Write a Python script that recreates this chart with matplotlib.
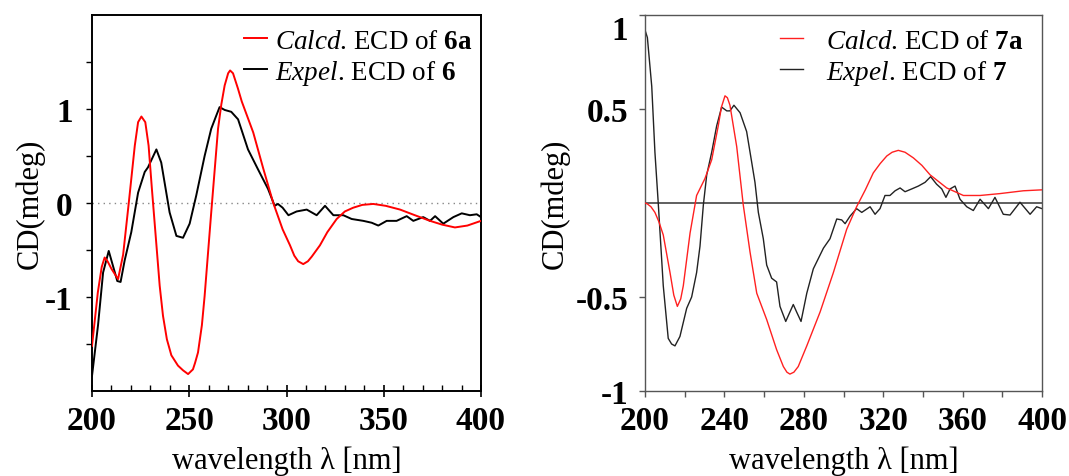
import matplotlib
matplotlib.use("Agg")
import matplotlib.pyplot as plt
from matplotlib.ticker import MultipleLocator, FixedLocator

plt.rcParams['font.family'] = ['Liberation Serif', 'DejaVu Serif']
plt.rcParams['mathtext.fontset'] = 'custom'
plt.rcParams['mathtext.rm'] = 'Liberation Serif'
plt.rcParams['mathtext.it'] = 'Liberation Serif:italic'
plt.rcParams['mathtext.bf'] = 'Liberation Serif:bold'
plt.rcParams['axes.unicode_minus'] = False

# ---------------- Left panel: compound 6 ----------------
calc6_wl = [200, 203, 205, 206.5, 208, 210, 213.4, 216, 218.9, 222, 223.7, 225.4, 227.4, 229.1,
            230.8, 232.2, 234.8, 236.5, 238.5, 240.8, 244.2, 246.8, 249.4, 251.9, 253, 254.5,
            256.5, 257.9, 261.3, 264.8, 266.5, 268.2, 270, 271, 272.5, 275, 277, 282.9, 288,
            293.2, 298, 301.8, 304, 306, 308.6, 311, 313, 317.2, 321, 325.8, 330, 334.3, 339,
            344.6, 351, 358.4, 366, 373.8, 380, 386.6, 393, 400]
calc6_cd = [-1.52, -0.95, -0.68, -0.58, -0.62, -0.70, -0.81, -0.55, 0.0, 0.61, 0.86, 0.92, 0.86,
            0.61, 0.15, -0.21, -0.88, -1.20, -1.45, -1.62, -1.73, -1.78, -1.82, -1.77, -1.70,
            -1.59, -1.30, -0.99, -0.10, 0.79, 1.05, 1.25, 1.38, 1.41, 1.38, 1.22, 1.08, 0.75,
            0.37, 0.0, -0.28, -0.45, -0.56, -0.62, -0.65, -0.62, -0.57, -0.45, -0.31, -0.17,
            -0.09, -0.05, -0.02, -0.01, -0.03, -0.07, -0.13, -0.19, -0.23, -0.26, -0.24, -0.19]

exp6_wl = [200, 203.1, 205.7, 208.6, 210.8, 213, 214.7, 216.8, 220.2, 223.7, 227.1, 228.8,
           233.1, 235.6, 239.9, 243.4, 246.8, 250.2, 253.6, 257.9, 261.3, 263.9, 265.6, 268.2,
           271.6, 275.1, 280.2, 285.3, 290.5, 293.9, 295.6, 298, 301, 305.2, 310.4, 315.5,
           319.8, 324.1, 329.2, 333.5, 339.5, 343.8, 347.2, 351.5, 356.6, 361.8, 365.2, 370.3,
           373.8, 376.4, 380.6, 385.8, 390.1, 394.3, 397.8, 400]
exp6_cd = [-1.84, -1.30, -0.74, -0.51, -0.67, -0.83, -0.84, -0.61, -0.31, 0.11, 0.33, 0.38,
           0.57, 0.43, -0.10, -0.35, -0.37, -0.22, 0.08, 0.50, 0.79, 0.93, 1.02, 0.99,
           0.97, 0.89, 0.57, 0.36, 0.15, -0.03, -0.01, -0.05, -0.13, -0.09, -0.07, -0.13,
           -0.03, -0.13, -0.13, -0.17, -0.19, -0.21, -0.24, -0.19, -0.19, -0.14, -0.19, -0.15,
           -0.19, -0.14, -0.22, -0.15, -0.11, -0.13, -0.12, -0.15]

# ---------------- Right panel: compound 7 ----------------
calc7_wl = [200, 201.2, 203, 205, 207, 209.2, 212.6, 214.5, 216.3, 218, 219.3, 222.7, 226,
            230.2, 233.6, 236.9, 238.5, 240.3, 241.5, 242.8, 246.2, 249.5, 252.9, 256.3,
            261.3, 266.3, 269.7, 271.5, 273, 275, 277.2, 281.5, 288.2, 294.9, 301.6, 306.6,
            311, 315, 318.5, 321.8, 324.5, 327.6, 331, 335.2, 339.5, 343.6, 352, 360.4,
            368.8, 378.8, 390.6, 400]
calc7_cd = [0.0, -0.005, -0.02, -0.05, -0.10, -0.17, -0.37, -0.49, -0.55, -0.51, -0.44, -0.16,
            0.04, 0.13, 0.23, 0.41, 0.51, 0.57, 0.56, 0.52, 0.30, -0.01, -0.26, -0.48,
            -0.62, -0.78, -0.87, -0.90, -0.91, -0.90, -0.87, -0.76, -0.58, -0.37, -0.14,
            -0.02, 0.07, 0.16, 0.21, 0.25, 0.27, 0.28, 0.27, 0.24, 0.20, 0.15, 0.08, 0.04,
            0.04, 0.05, 0.065, 0.07]

exp7_wl = [200, 201.2, 203.4, 205, 206.7, 209.2, 211.7, 213.4, 215.1, 217.6, 221, 223.5, 226,
           227.7, 229.4, 231.1, 233.6, 236.1, 238.6, 241.2, 242.8, 244.8, 247.9, 251.2,
           253.7, 255.4, 257.1, 259.6, 261.3, 263.8, 266.3, 268, 270.9, 273, 274.7, 276.4,
           278.6, 281.5, 284.8, 289.9, 293.2, 296.6, 299.1, 300.8, 303.3, 306.6, 309.2,
           313.4, 315.9, 318.4, 320.9, 323.4, 326, 328.5, 331, 334.4, 337.7, 341.1, 343.9,
           346.9, 349.5, 351.6, 353.7, 356.2, 358.7, 362.1, 365.4, 368.8, 373, 376.3, 380.5,
           383.9, 388.9, 394, 397.3, 400]
exp7_cd = [0.92, 0.88, 0.62, 0.27, -0.005, -0.44, -0.72, -0.75, -0.76, -0.71, -0.56, -0.50,
           -0.37, -0.23, -0.01, 0.15, 0.27, 0.41, 0.51, 0.49, 0.49, 0.52, 0.48, 0.38,
           0.22, 0.11, -0.05, -0.19, -0.33, -0.40, -0.42, -0.55, -0.63, -0.58, -0.54, -0.58,
           -0.63, -0.48, -0.35, -0.24, -0.19, -0.085, -0.09, -0.11, -0.07, -0.03, -0.05,
           -0.02, -0.06, -0.03, 0.04, 0.04, 0.065, 0.08, 0.06, 0.075, 0.09, 0.11, 0.14,
           0.10, 0.075, 0.03, 0.075, 0.09, 0.02, -0.02, -0.04, 0.02, -0.03, 0.03, -0.06,
           -0.064, 0.004, -0.06, -0.02, -0.03]

left_xticks = [200, 250, 300, 350, 400]
left_yticks = [-1.5, -1, -0.5, 0, 0.5, 1, 1.5]
left_yticklabels = ['', '-1', '', '0', '', '1', '']
right_xticks = [200, 240, 280, 320, 360, 400]
right_yticks = [-1, -0.5, 0.5, 1]
right_yticklabels = ['-1', '-0.5', '0.5', '1']

labels6 = [r'$\mathit{Calcd}$. ECD of $\mathbf{6a}$', r'$\mathit{Expel}$. ECD of $\mathbf{6}$']
labels7 = [r'$\mathit{Calcd}$. ECD of $\mathbf{7a}$', r'$\mathit{Expel}$. ECD of $\mathbf{7}$']

W, H = 1069, 477
fig = plt.figure(figsize=(W / 100, H / 100), dpi=100)
ax1 = fig.add_axes([92 / W, 1 - 392 / H, (481 - 92) / W, (392 - 16) / H])
ax2 = fig.add_axes([645 / W, 1 - 392 / H, (1042 - 645) / W, (392 - 16) / H])

TICK_FS = 24
LAB_FS = 22
LEG_FS = 19.5

# left panel
ax1.axhline(0, color='#888888', lw=1.0, ls=(0, (1, 3)), zorder=1)
ax1.plot(calc6_wl, calc6_cd, color='#ff0000', lw=1.4, label=labels6[0], zorder=3)
ax1.plot(exp6_wl, exp6_cd, color='#000000', lw=1.4, label=labels6[1], zorder=2)
ax1.set_xlim(200, 400)
ax1.set_ylim(-2, 2)
ax1.xaxis.set_major_locator(FixedLocator(left_xticks))
ax1.xaxis.set_minor_locator(MultipleLocator(10))
ax1.yaxis.set_major_locator(FixedLocator(left_yticks))
ax1.set_yticklabels(left_yticklabels)
ax1.tick_params(axis='x', which='major', direction='inout', length=8, width=1.2, pad=6)
ax1.tick_params(axis='x', which='minor', direction='in', length=4, width=1.0)
ax1.tick_params(axis='y', which='major', direction='out', length=4, width=1.0, pad=10)
for s in ax1.spines.values():
    s.set_linewidth(1.4)
    s.set_color('black')
ax1.set_xlabel('wavelength λ [nm]', fontsize=LAB_FS, labelpad=7)
ax1.set_ylabel('CD(mdeg)', fontsize=LAB_FS, labelpad=0)
leg1 = ax1.legend(loc='upper right', frameon=False, fontsize=LEG_FS, handlelength=0.85,
                  handletextpad=0.3, borderaxespad=0.0, labelspacing=0.15, borderpad=0.3,
                  bbox_to_anchor=(1.0, 0.985))

# right panel
ax2.axhline(0, color='#444444', lw=1.2, zorder=1)
ax2.plot(calc7_wl, calc7_cd, color='#ff2020', lw=1.0, label=labels7[0], zorder=3)
ax2.plot(exp7_wl, exp7_cd, color='#222222', lw=1.0, label=labels7[1], zorder=2)
ax2.set_xlim(200, 400)
ax2.set_ylim(-1, 1)
ax2.xaxis.set_major_locator(FixedLocator(right_xticks))
ax2.xaxis.set_minor_locator(MultipleLocator(20))
ax2.yaxis.set_major_locator(FixedLocator(right_yticks))
ax2.set_yticklabels(right_yticklabels)
ax2.tick_params(axis='x', which='major', direction='out', length=4, width=1.0, pad=6, color='#555555')
ax2.tick_params(axis='x', which='minor', direction='out', length=4, width=1.0, color='#555555')
ax2.tick_params(axis='y', which='major', direction='out', length=4, width=1.0, pad=8, color='#555555')
for s in ax2.spines.values():
    s.set_linewidth(1.0)
    s.set_color('#555555')
ax2.set_xlabel('wavelength λ [nm]', fontsize=LAB_FS, labelpad=7)
ax2.set_ylabel('CD(mdeg)', fontsize=LAB_FS, labelpad=4)
leg2 = ax2.legend(loc='upper right', frameon=False, fontsize=LEG_FS, handlelength=0.85,
                  handletextpad=0.85, borderaxespad=0.0, labelspacing=0.15, borderpad=0.3,
                  bbox_to_anchor=(0.975, 0.985))

for ax in (ax1, ax2):
    for lab in ax.get_xticklabels() + ax.get_yticklabels():
        lab.set_fontsize(TICK_FS)
        lab.set_fontweight('bold')

# in the reference the top label of the right panel sits slightly inside the frame
for lab in ax2.get_yticklabels():
    if lab.get_text() == '1':
        lab.set_va('top')

fig.savefig('out.png', dpi=100)
